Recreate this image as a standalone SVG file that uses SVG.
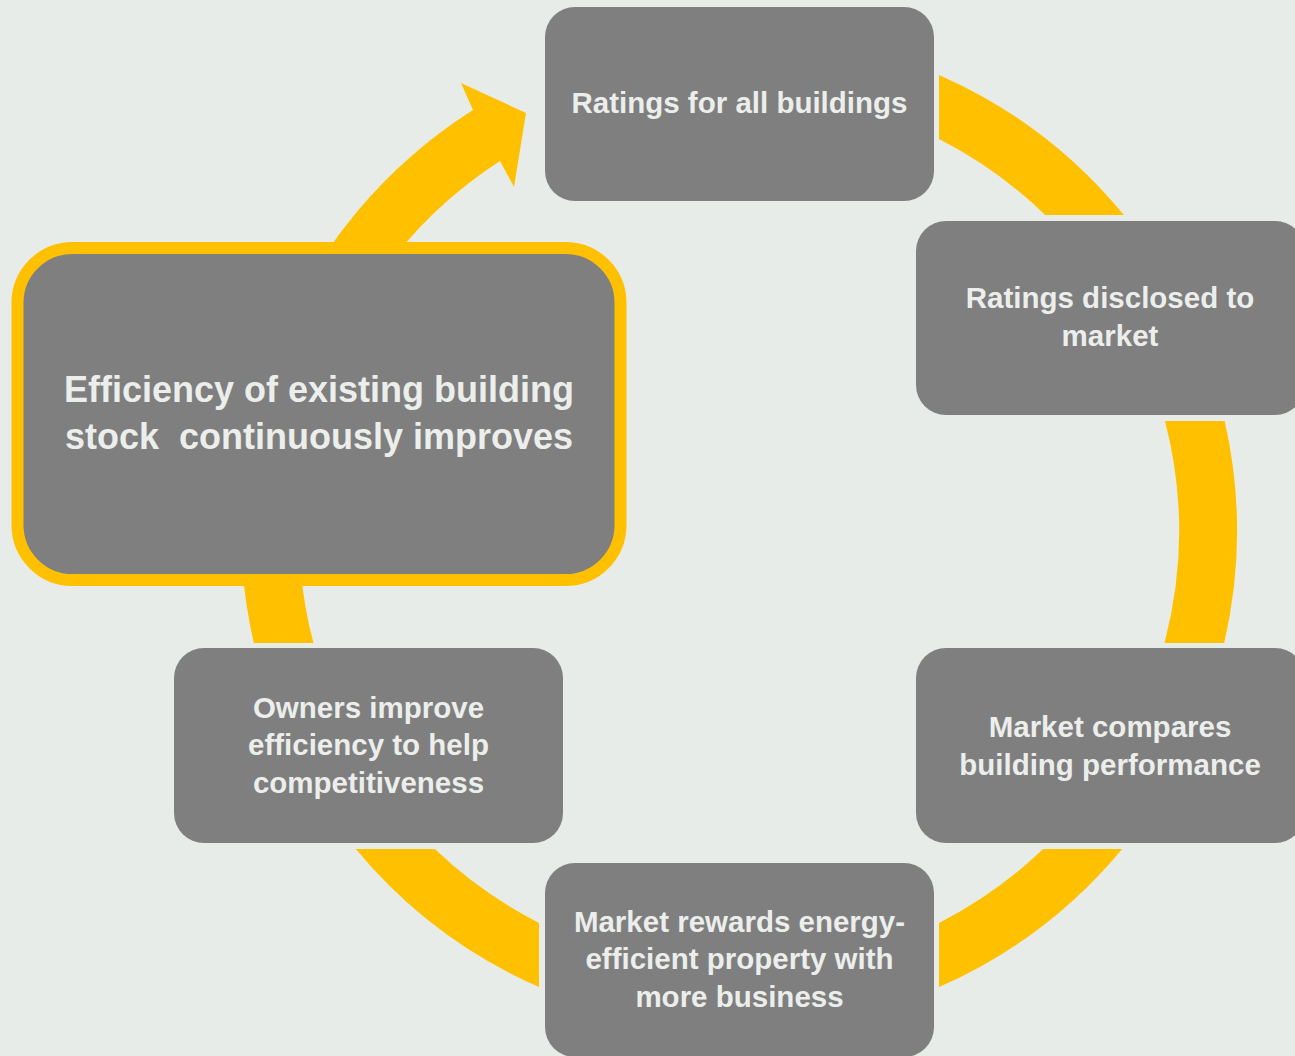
<svg xmlns="http://www.w3.org/2000/svg" width="1295" height="1056" viewBox="0 0 1295 1056">
<style>
.arc{fill:#FFC000;}
.box{fill:#7F7F7F;}
.t{font-family:"Liberation Sans",Arial,sans-serif;font-weight:bold;font-size:29.5px;fill:#EBEEEB;text-anchor:middle;}
.big{font-size:36px;white-space:pre;}
</style>
<rect x="0" y="0" width="1295" height="1056" fill="#E8ECE9"/>
<g id="connectors">
<path class="arc" d="M 939 74.9 A 498 498 0 0 1 1123.9 215 L 1045.2 215 A 440 440 0 0 0 939 139.1 Z"/>
<path class="arc" d="M 1224.7 421 A 498 498 0 0 1 1224.2 643 L 1164.5 643 A 440 440 0 0 0 1165 421 Z"/>
<path class="arc" d="M 1122.2 849 A 498 498 0 0 1 939 987.1 L 939 922.9 A 440 440 0 0 0 1043.1 849 Z"/>
<path class="arc" d="M 539 987.1 A 498 498 0 0 1 355.8 849 L 434.9 849 A 440 440 0 0 0 539 922.9 Z"/>
<path class="arc" d="M 253.8 643 A 498 498 0 0 1 473 110 L 461 83 L 526 113 L 514 187 L 500 161 A 440 440 0 0 0 313.5 643 Z"/>
</g>
<g id="node-center">
<rect x="17.5" y="248" width="603" height="332" rx="55" ry="55" fill="#7F7F7F" stroke="#FFC000" stroke-width="12"/>
<text class="t big" x="319" y="402">Efficiency of existing building</text>
<text class="t big" x="319" y="449">stock  continuously improves</text>
</g>
<g id="node-ratings">
<rect class="box" x="545" y="7" width="389" height="194" rx="30" ry="30"/>
<text class="t" x="739.5" y="113">Ratings for all buildings</text>
</g>
<g id="node-disclosed">
<rect class="box" x="916" y="221" width="389" height="194" rx="30" ry="30"/>
<text class="t" x="1110" y="308">Ratings disclosed to</text>
<text class="t" x="1110" y="346">market</text>
</g>
<g id="node-compares">
<rect class="box" x="916" y="648" width="389" height="195" rx="30" ry="30"/>
<text class="t" x="1110" y="737">Market compares</text>
<text class="t" x="1110" y="775">building performance</text>
</g>
<g id="node-rewards">
<rect class="box" x="545" y="863" width="389" height="194" rx="30" ry="30"/>
<text class="t" x="739.5" y="932">Market rewards energy-</text>
<text class="t" x="739.5" y="969">efficient property with</text>
<text class="t" x="739.5" y="1007">more business</text>
</g>
<g id="node-owners">
<rect class="box" x="174" y="648" width="389" height="195" rx="30" ry="30"/>
<text class="t" x="368.5" y="718">Owners improve</text>
<text class="t" x="368.5" y="755">efficiency to help</text>
<text class="t" x="368.5" y="793">competitiveness</text>
</g>
</svg>
